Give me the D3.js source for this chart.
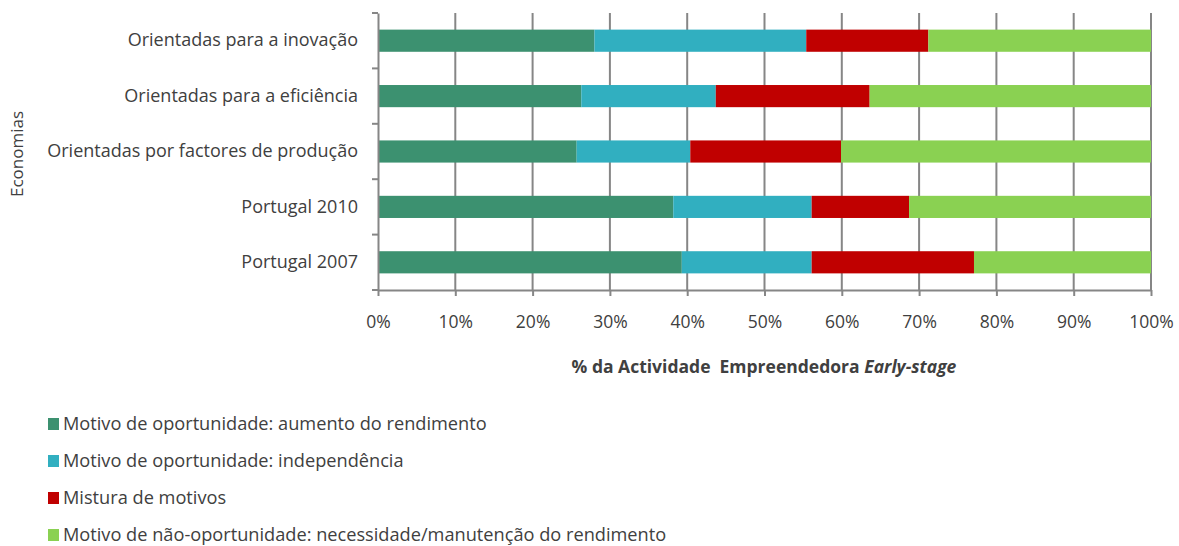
<!DOCTYPE html>
<html><head><meta charset="utf-8">
<script src="https://cdn.jsdelivr.net/npm/d3@7"></script>
<style>
body{margin:0;background:#fff;}
text{font-family:"Open Sans",sans-serif;fill:#404040;}
</style></head>
<body><svg id="c" width="1179" height="546"></svg>
<script>
const categories = ["Orientadas para a inovação","Orientadas para a eficiência","Orientadas por factores de produção","Portugal 2010","Portugal 2007"];
const seriesNames = ["Motivo de oportunidade: aumento do rendimento","Motivo de oportunidade: independência","Mistura de motivos","Motivo de não-oportunidade: necessidade/manutenção do rendimento"];
const aumento = [28.0, 26.3, 25.7, 38.2, 39.3];
const independencia = [27.4, 17.4, 14.7, 17.9, 16.8];
const mistura = [15.8, 19.9, 19.5, 12.6, 21.0];
const necessidade = [28.8, 36.4, 40.1, 31.3, 22.9];
const xTicks = [0,10,20,30,40,50,60,70,80,90,100];
const colors = ["#3c9170","#31afc0","#c00000","#8ad152"];

const svg = d3.select("#c");
const m = {left:378, right:1151, top:13, bottom:290};
const x = d3.scaleLinear().domain([0,100]).range([m.left,m.right]);
const y = d3.scaleBand().domain(categories).range([m.top,m.bottom]).paddingInner(0.6).paddingOuter(0.3);

const data = categories.map((c,i)=>({cat:c, a:aumento[i], b:independencia[i], c2:mistura[i], d:necessidade[i]}));
const stack = d3.stack().keys(["a","b","c2","d"])(data);

// gridlines
svg.append("g").selectAll("line").data(xTicks.slice(1)).join("line")
  .attr("x1",d=>x(d)).attr("x2",d=>x(d)).attr("y1",m.top).attr("y2",m.bottom)
  .attr("stroke","#868686").attr("stroke-width",2);

// bars
svg.append("g").selectAll("g").data(stack).join("g").attr("fill",(d,i)=>colors[i])
  .selectAll("rect").data(d=>d).join("rect")
  .attr("x",d=>x(d[0])).attr("width",d=>x(d[1])-x(d[0]))
  .attr("y",d=>y(d.data.cat)).attr("height",y.bandwidth());

// x axis
const xa = svg.append("g").attr("transform",`translate(0,${m.bottom})`)
  .call(d3.axisBottom(x).tickValues(xTicks).tickFormat(d=>d+"%").tickSize(6).tickSizeOuter(0));
xa.select(".domain").attr("stroke","#868686").attr("stroke-width",2);
xa.selectAll(".tick line").attr("stroke","#868686").attr("stroke-width",2);
xa.selectAll(".tick text").attr("dy",0).attr("y",38).style("font-size","17.5px").style("font-family","'Open Sans'").attr("fill","#404040");

// y axis
const ya = svg.append("g").attr("transform",`translate(${m.left},0)`)
  .call(d3.axisLeft(y).tickSize(0).tickPadding(20));
ya.select(".domain").attr("stroke","#868686").attr("stroke-width",2);
ya.selectAll(".tick text").style("font-size","18px").style("font-family","'Open Sans'").attr("fill","#404040");
const bounds = d3.range(categories.length+1).map(i=>m.top + i*(m.bottom-m.top)/categories.length);
ya.append("g").selectAll("line").data(bounds).join("line")
  .attr("x1",-6).attr("x2",0).attr("y1",d=>d).attr("y2",d=>d)
  .attr("stroke","#868686").attr("stroke-width",2);

// axis titles
svg.append("text").attr("x",764).attr("y",373).attr("text-anchor","middle")
  .style("font-size","17.5px").style("font-weight","bold").attr("fill","#262626")
  .attr("xml:space","preserve")
  .html('% da Actividade  Empreendedora <tspan font-style="italic">Early-stage</tspan>');
svg.append("text").attr("transform","translate(23,154) rotate(-90)").attr("text-anchor","middle")
  .style("font-size","17px").attr("fill","#262626").text("Economias");

// legend
const lg = svg.append("g").selectAll("g").data(seriesNames).join("g")
  .attr("transform",(d,i)=>`translate(48,${424+i*37})`);
lg.append("rect").attr("x",0).attr("y",-6).attr("width",11).attr("height",12).attr("fill",(d,i)=>colors[i]);
lg.append("text").attr("x",15).attr("y",0).attr("dy","0.35em").style("font-size","18.2px").text(d=>d);
</script></body></html>
